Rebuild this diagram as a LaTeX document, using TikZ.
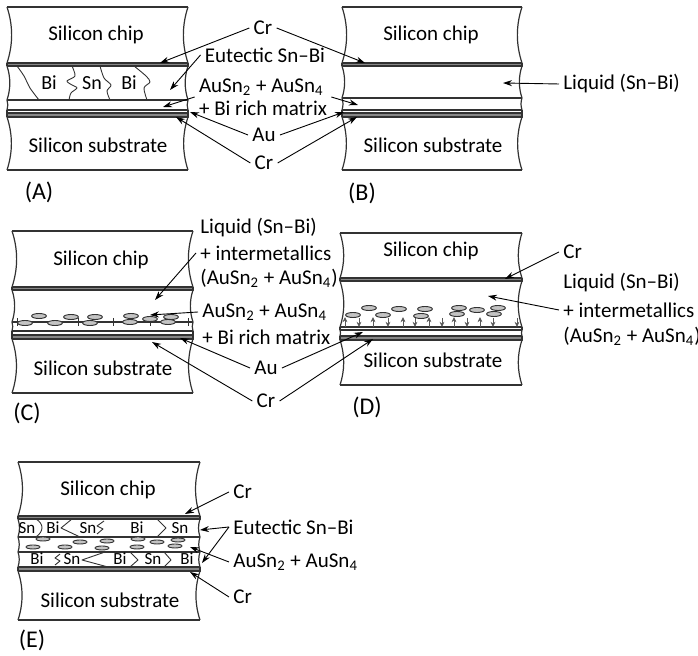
\documentclass[tikz,border=0pt]{standalone}
\usepackage{fontspec}
\setmainfont{Carlito}
\usetikzlibrary{arrows.meta, shapes, positioning}
\usepackage{xcolor}
\definecolor{crgray}{RGB}{135,135,135}
\definecolor{linegray}{RGB}{50,50,50}
\definecolor{imcgray}{RGB}{195,195,195}

\begin{document}
\begin{tikzpicture}[
                x=0.5pt, y=-0.5pt,
                line join=round,
                rim/.style={draw=linegray, line width=0.6pt},
                crband/.style={fill=crgray, draw=linegray, line width=0.45pt},
                txt/.style={font=\fontsize{10.5}{11.5}\selectfont, inner sep=2pt},
                tagtxt/.style={font=\fontsize{12}{13}\selectfont, inner sep=2pt},
                graintxt/.style={font=\fontsize{10}{11}\selectfont, inner sep=0pt},
                rowtxt/.style={font=\fontsize{8.5}{9}\selectfont, inner sep=0pt},
                ptr/.style={-{Stealth[length=4.5pt, width=3pt]}, line width=0.45pt},
                imc/.style={draw=linegray, fill=imcgray, line width=0.45pt},
                flowarr/.style={-{Stealth[length=2.6pt, width=2.4pt]}, line width=0.5pt, draw=black!65}
                ]
                \useasboundingbox (0,0) rectangle (698,656);

                %% Cr bands
                \filldraw[crband] (7,63) rectangle (188,66);
                \filldraw[crband] (7,113) rectangle (188,117);
                \filldraw[crband] (342,63) rectangle (522,66);
                \filldraw[crband] (342,113) rectangle (522,117);
                \filldraw[crband] (12,287) rectangle (193,290);
                \filldraw[crband] (12,335) rectangle (193,339);
                \filldraw[crband] (340,278) rectangle (522,281);
                \filldraw[crband] (340,336) rectangle (522,340);
                \filldraw[crband] (18,516) rectangle (200,519);
                \filldraw[crband] (18,567) rectangle (200,571);

                %% Layer lines and wavy side walls
                \foreach \L/\R/\bounds in {
                        7/188/{7/63,63/66,66/100,100/110,110/113,113/117,117/170},
                        342/522/{7/63,63/66,66/98,98/110,110/113,113/117,117/170},
                        12/193/{231/287,287/290,290/322,322/331,331/335,335/339,339/393},
                        340/522/{233/278,278/281,281/327,327/330,330/336,336/340,340/385},
                        18/200/{462/516,516/519,519/537,537/552,552/567,567/571,571/620}} {
                    \foreach \ya/\yb in \bounds {
                        \pgfmathsetmacro{\bow}{0.11*(\yb-\ya)}
                        \draw[rim] (\L,\ya) -- (\R,\ya);
                        \draw[rim] (\L,\yb) -- (\R,\yb);
                        \draw[rim] (\L,\ya) .. controls ({\L+\bow},{\ya+(\yb-\ya)/3}) and ({\L+\bow},{\yb-(\yb-\ya)/3}) .. (\L,\yb);
                        \draw[rim] (\R,\ya) .. controls ({\R-\bow},{\ya+(\yb-\ya)/3}) and ({\R-\bow},{\yb-(\yb-\ya)/3}) .. (\R,\yb);
                    }
                }

                %% (A) eutectic grains
                \draw[rim, line width=0.45pt] plot[smooth] coordinates {(17,66) (24,76) (30,88) (39,100)};
                \draw[rim, line width=0.45pt] plot[smooth] coordinates {(72,66) (75,76) (67,81) (72,85) (77,88) (71,93) (69,100)};
                \draw[rim, line width=0.45pt] plot[smooth] coordinates {(100,66) (104,78) (111,85) (107,91) (110,100)};
                \draw[rim, line width=0.45pt] plot[smooth] coordinates {(134,66) (146,76) (150,82) (144,88) (147,100)};
                \node[graintxt] (biA1) at (49,83) {Bi};
                \node[graintxt] (snA) at (92,83) {Sn};
                \node[graintxt] (biA2) at (129,83) {Bi};

                %% (C) intermetallics on the interface
                \draw[rim, line width=0.45pt] \foreach \x in {17,78,113,150,188} {(\x,318) -- (\x,326)};
                \foreach \x/\y in {39/316, 25/323, 71/317, 55/323, 95/317, 90/323, 131/316, 130/322, 150/319, 171/317, 168/322}
                    \filldraw[imc] (\x,\y) ellipse [x radius=3.7pt, y radius=1.25pt];

                %% (D) intermetallics floating off
                \foreach \x in {345,373,403,429,454,480}
                    \draw[flowarr] (\x,327) -- (\x,317);
                \foreach \x in {359,388,415,442,467,493,517}
                    \draw[flowarr] (\x,318) -- (\x,327);
                \foreach \x/\y in {369/308, 399/309, 425/309, 459/308, 477/310, 498/308, 353/315, 383/315, 421/316, 457/314, 494/314}
                    \filldraw[imc] (\x,\y) ellipse [x radius=3.7pt, y radius=1.25pt];

                %% (E) resolidified joint
                \foreach \x/\y in {43/539, 80/542, 107/541, 138/539, 157/542, 178/540, 33/547, 65/547, 102/548, 137/547, 175/546}
                    \filldraw[imc] (\x,\y) ellipse [x radius=3.5pt, y radius=1pt];
                \draw[rim, line width=0.45pt] (36,519) .. controls (44,524) and (44,531) .. (36,537);
                \draw[rim, line width=0.45pt] (72,519) -- (61,528) -- (80,537);
                \draw[rim, line width=0.45pt] (104,521) -- (97,526) -- (103,529) -- (97,534);
                \draw[rim, line width=0.45pt] (157,519) -- (166,528) -- (157,537);
                \draw[rim, line width=0.45pt] (60,554) -- (55,558) -- (60,561) -- (55,565);
                \draw[rim, line width=0.45pt] (105,552) -- (82,560) -- (108,567);
                \draw[rim, line width=0.45pt] (130,552) -- (138,560) -- (130,567);
                \draw[rim, line width=0.45pt] (164,552) -- (171,560) -- (164,567);
                \node[rowtxt] (snE1) at (27,528) {Sn};
                \node[rowtxt] (biE1) at (53,528) {Bi};
                \node[rowtxt] (snE2) at (88,528) {Sn};
                \node[rowtxt] (biE2) at (137,528) {Bi};
                \node[rowtxt] (snE3) at (180,528) {Sn};
                \node[rowtxt] (biE3) at (37,559) {Bi};
                \node[rowtxt] (snE4) at (72,559) {Sn};
                \node[rowtxt] (biE4) at (120,559) {Bi};
                \node[rowtxt] (snE5) at (153,559) {Sn};
                \node[rowtxt] (biE5) at (187,559) {Bi};

                %% Block names and panel tags
                \node[txt] (chipA) at (96,35) {Silicon chip};
                \node[txt] (subA) at (98,145) {Silicon substrate};
                \node[txt] (chipB) at (431,35) {Silicon chip};
                \node[txt] (subB) at (433,145) {Silicon substrate};
                \node[txt] (chipC) at (101,260) {Silicon chip};
                \node[txt] (subC) at (103,368) {Silicon substrate};
                \node[txt] (chipD) at (431,251) {Silicon chip};
                \node[txt] (subD) at (433,360) {Silicon substrate};
                \node[txt] (chipE) at (108,490) {Silicon chip};
                \node[txt] (subE) at (110,600) {Silicon substrate};
                \node[tagtxt] (tagA) at (39,192) {(A)};
                \node[tagtxt] (tagB) at (362,193) {(B)};
                \node[tagtxt] (tagC) at (27,413) {(C)};
                \node[tagtxt] (tagD) at (367,407) {(D)};
                \node[tagtxt] (tagE) at (32,640) {(E)};

                %% Arrow targets
                \coordinate (crA) at (160,63);
                \coordinate (eutA) at (170,90);
                \coordinate (ausnA) at (163,107);
                \coordinate (auA) at (190,112);
                \coordinate (crA2) at (176,117);
                \coordinate (crB) at (365,63);
                \coordinate (ausnB) at (358,105);
                \coordinate (auB) at (344,112);
                \coordinate (crB2) at (357,117);
                \coordinate (liqB) at (503,83);
                \coordinate (liqC) at (155,300);
                \coordinate (ausnC) at (150,315);
                \coordinate (auC) at (180,338);
                \coordinate (crC) at (152,342);
                \coordinate (crD) at (505,279);
                \coordinate (liqD) at (488,296);
                \coordinate (auD) at (363,332);
                \coordinate (crD2) at (373,339);
                \coordinate (crE) at (185,514);
                \coordinate (eutE) at (200,530);
                \coordinate (eutE2) at (202,563);
                \coordinate (ausnE) at (190,547);
                \coordinate (crE2) at (190,572);

                %% Labels between (A) and (B)
                \node[txt] (crAB) at (263,28) {Cr};
                \node[txt] (eutAB) at (265,55) {Eutectic Sn–Bi};
                \node[txt, align=left] (ausnAB) at (263,97) {AuSn\textsubscript{2} + AuSn\textsubscript{4}\\+ Bi rich matrix};
                \node[txt] (auAB) at (264,135) {Au};
                \node[txt] (crAB2) at (264,163) {Cr};
                \node[txt, anchor=west] (liqBlbl) at (559,84) {Liquid (Sn–Bi)};

                \draw[ptr] (crAB.west) -- (crA);
                \draw[ptr] (crAB.east) -- (crB);
                \draw[ptr] (eutAB.west) -- (eutA);
                \draw[ptr] (ausnAB.west) -- (ausnA);
                \draw[ptr] (ausnAB.east) -- (ausnB);
                \draw[ptr] (auAB.west) -- (auA);
                \draw[ptr] (auAB.east) -- (auB);
                \draw[ptr] (crAB2.west) -- (crA2);
                \draw[ptr] (crAB2.east) -- (crB2);
                \draw[ptr] (liqBlbl.west) -- (liqB);

                %% Labels between (C) and (D)
                \node[txt, anchor=west] (liqClbl) at (196,228) {Liquid (Sn–Bi)};
                \node[txt, anchor=west] (intClbl) at (196,253) {+ intermetallics};
                \node[txt, anchor=west] (imcClbl) at (196,278) {(AuSn\textsubscript{2} + AuSn\textsubscript{4})};
                \node[txt, anchor=west] (ausnClbl) at (198,312) {AuSn\textsubscript{2} + AuSn\textsubscript{4}};
                \node[txt, anchor=west] (bimClbl) at (198,337) {+ Bi rich matrix};
                \node[txt] (auCD) at (266,368) {Au};
                \node[txt] (crCD) at (266,401) {Cr};
                \node[txt, anchor=west] (crDlbl) at (559,252) {Cr};
                \node[txt, anchor=west] (liqDlbl) at (559,283) {Liquid (Sn–Bi)};
                \node[txt, anchor=west] (intDlbl) at (559,310) {+ intermetallics};
                \node[txt, anchor=west] (imcDlbl) at (559,336) {(AuSn\textsubscript{2} + AuSn\textsubscript{4})};

                \draw[ptr] (intClbl.west) -- (liqC);
                \draw[ptr] (ausnClbl.west) -- (ausnC);
                \draw[ptr] (auCD.west) -- (auC);
                \draw[ptr] (auCD.east) -- (auD);
                \draw[ptr] (crCD.west) -- (crC);
                \draw[ptr] (crCD.east) -- (crD2);
                \draw[ptr] (crDlbl.west) -- (crD);
                \draw[ptr] (intDlbl.west) -- (liqD);

                %% Labels beside (E)
                \node[txt, anchor=west] (crElbl) at (229,492) {Cr};
                \node[txt, anchor=west] (eutElbl) at (229,527) {Eutectic Sn–Bi};
                \node[txt, anchor=west] (ausnElbl) at (229,562) {AuSn\textsubscript{2} + AuSn\textsubscript{4}};
                \node[txt, anchor=west] (crElbl2) at (229,597) {Cr};

                \draw[ptr] (crElbl.west) -- (crE);
                \draw[ptr] (eutElbl.west) -- (eutE);
                \draw[ptr] (eutElbl.west) -- (eutE2);
                \draw[ptr] (ausnElbl.west) -- (ausnE);
                \draw[ptr] (crElbl2.west) -- (crE2);
\end{tikzpicture}
\end{document}
